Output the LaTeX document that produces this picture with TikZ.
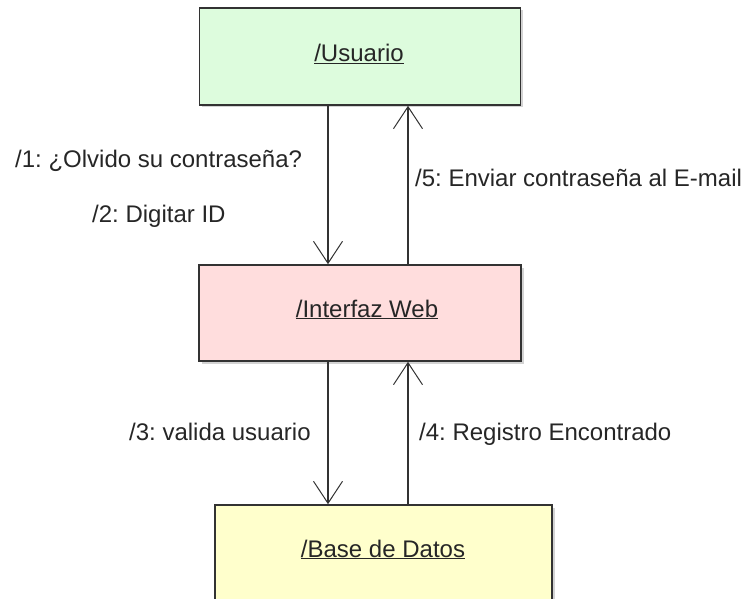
\documentclass[tikz,border=0pt]{standalone}
\usepackage{fontspec}
\setmainfont{Liberation Sans}
\frenchspacing
\usetikzlibrary{arrows.meta,shadows}
\definecolor{boxgreen}{RGB}{221,252,221}
\definecolor{boxpink}{RGB}{255,221,221}
\definecolor{boxyellow}{RGB}{255,255,204}
\definecolor{edge}{RGB}{50,50,50}
\begin{document}
\begin{tikzpicture}[x=1bp,y=-1bp,
  objbox/.style={draw=edge,line width=1.6bp,rectangle,inner sep=0pt,
    drop shadow={shadow xshift=2.5bp,shadow yshift=-2.5bp,opacity=.35,fill=gray}},
  title/.style={font=\fontsize{24bp}{28bp}\selectfont,anchor=base,inner sep=0pt,text=black!85},
  msg/.style={font=\fontsize{24bp}{28bp}\selectfont,anchor=base west,inner sep=0pt,text=black!85},
  arr/.style={draw=edge,line width=1.4bp,-{Straight Barb[length=22bp,width=29bp,line width=1bp]}}]
\useasboundingbox (0,0) rectangle (755,599);
% boxes
\node[objbox,fill=boxgreen,minimum width=321bp,minimum height=97bp] (usr) at (360,56.5) {};
\node[objbox,fill=boxpink,minimum width=322bp,minimum height=96bp] (web) at (360,313) {};
\node[objbox,fill=boxyellow,minimum width=337bp,minimum height=110bp] (db) at (383.5,560) {};
% titles
\node[title] (tusr) at (359,62) {\underline{/Usuario}};
\node[title] (tweb) at (367,317) {\underline{/Interfaz Web}};
\node[title] (tdb) at (383,557) {\underline{/Base de Datos}};
% x-positions of connectors
\coordinate (xd) at (328,0);
\coordinate (xu) at (408,0);
% connectors
\draw[arr] (usr.south -| xd) -- (web.north -| xd);
\draw[arr] (web.north -| xu) -- (usr.south -| xu);
\draw[arr] (web.south -| xd) -- (db.north -| xd);
\draw[arr] (db.north -| xu) -- (web.south -| xu);
% messages
\node[msg] (m1) at (15,168) {/1: ¿Olvido su contraseña?};
\node[msg] (m2) at (92,223) {/2: Digitar ID};
\node[msg] (m5) at (415,187) {/5: Enviar contraseña al E-mail};
\node[msg] (m3) at (129,440) {/3: valida usuario};
\node[msg] (m4) at (419,440) {/4: Registro Encontrado};
\end{tikzpicture}
\end{document}
